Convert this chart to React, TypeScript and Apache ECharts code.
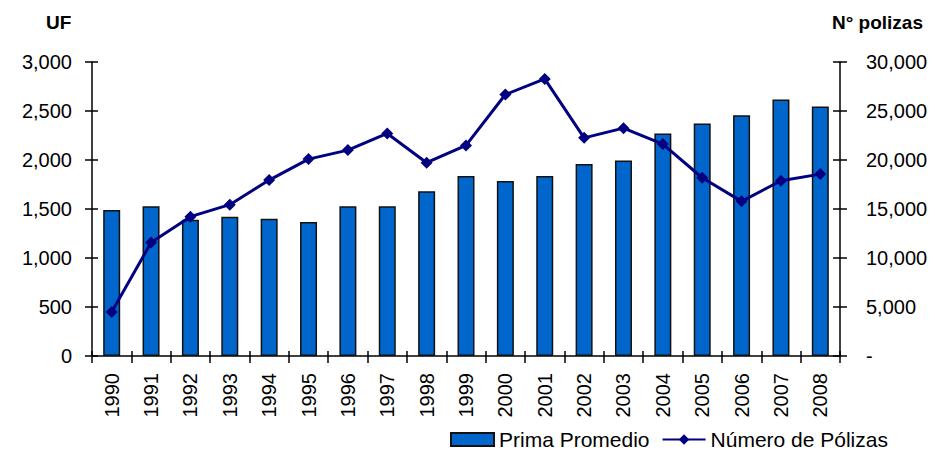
import React, { useEffect, useRef } from "react";
import * as echarts from "echarts";

const years = ["1990","1991","1992","1993","1994","1995","1996","1997","1998","1999","2000","2001","2002","2003","2004","2005","2006","2007","2008"];
const primaPromedio = [1490, 1527, 1390, 1422, 1401, 1368, 1527, 1527, 1680, 1836, 1785, 1836, 1958, 1995, 2271, 2373, 2457, 2617, 2545];
const numeroPolizas = [4480, 11570, 14220, 15440, 17950, 20090, 21010, 22710, 19720, 21490, 26680, 28270, 22260, 23250, 21620, 18190, 15780, 17880, 18560];
const leftTicks = { min: 0, max: 3000, interval: 500 };
const rightTicks = { min: 0, max: 30000, interval: 5000 };

const FONT = "'Liberation Sans', Arial, sans-serif";
const fmt = (v: number) => v.toLocaleString("en-US");

export default function App() {
  const ref = useRef<HTMLDivElement>(null);
  useEffect(() => {
    if (!ref.current) return;
    const chart = echarts.init(ref.current, undefined, { renderer: "svg" });
    const tickStyle = { color: "#000", width: 1.5 };
    chart.setOption({
      animation: false,
      backgroundColor: "#fff",
      textStyle: { fontFamily: FONT },
      grid: { left: 92, right: 95, top: 62, bottom: 96, containLabel: false },
      graphic: [
        { type: "text", left: 46, top: 13, style: { text: "UF", font: `bold 19px ${FONT}`, fill: "#000" } },
        { type: "text", left: 832, top: 13, style: { text: "N° polizas", font: `bold 19px ${FONT}`, fill: "#000" } },
      ],
      legend: {
        left: 445,
        top: 424,
        itemWidth: 43,
        itemHeight: 13,
        itemGap: 12,
        textStyle: { fontSize: 21, color: "#000", fontFamily: FONT },
        data: [
          { name: "Prima Promedio", icon: "rect" },
          { name: "Número de Pólizas" },
        ],
      },
      xAxis: [
        {
          type: "category",
          data: years,
          boundaryGap: true,
          axisLine: { lineStyle: { color: "#000", width: 1.5 } },
          axisTick: { show: true, length: 7, lineStyle: tickStyle },
          axisLabel: { rotate: 90, margin: 17, fontSize: 20, color: "#000", fontFamily: FONT },
        },
        {
          type: "category",
          data: years,
          position: "bottom",
          boundaryGap: true,
          axisLine: { show: false },
          axisTick: { show: true, inside: true, length: 5, lineStyle: tickStyle },
          axisLabel: { show: false },
        },
      ],
      yAxis: [
        {
          type: "value",
          position: "left",
          ...leftTicks,
          splitLine: { show: false },
          axisLine: { show: true, lineStyle: { color: "#000", width: 1.5 } },
          axisTick: { show: true, length: 7, lineStyle: tickStyle },
          axisLabel: { margin: 20, fontSize: 20, color: "#000", fontFamily: FONT, formatter: (v: number) => fmt(v) },
        },
        {
          type: "value",
          position: "right",
          ...rightTicks,
          splitLine: { show: false },
          axisLine: { show: true, lineStyle: { color: "#000", width: 1.5 } },
          axisTick: { show: true, length: 7, lineStyle: tickStyle },
          axisLabel: { margin: 26, fontSize: 20, color: "#000", fontFamily: FONT, formatter: (v: number) => (v === 0 ? "-" : fmt(v)) },
        },
        {
          type: "value",
          position: "left",
          ...leftTicks,
          splitLine: { show: false },
          axisLine: { show: false },
          axisTick: { show: true, inside: true, length: 6, lineStyle: tickStyle },
          axisLabel: { show: false },
        },
        {
          type: "value",
          position: "right",
          ...rightTicks,
          splitLine: { show: false },
          axisLine: { show: false },
          axisTick: { show: true, inside: true, length: 7, lineStyle: tickStyle },
          axisLabel: { show: false },
        },
      ],
      series: [
        {
          name: "Prima Promedio",
          type: "bar",
          xAxisIndex: 0,
          yAxisIndex: 0,
          data: primaPromedio,
          barWidth: 17,
          itemStyle: { color: "#0066CC", borderColor: "#111", borderWidth: 1.5 },
        },
        {
          name: "Número de Pólizas",
          type: "line",
          xAxisIndex: 0,
          yAxisIndex: 1,
          data: numeroPolizas,
          symbol: "diamond",
          symbolSize: 12,
          lineStyle: { color: "#000080", width: 3 },
          itemStyle: { color: "#000080" },
          z: 5,
        },
      ],
    });
    return () => chart.dispose();
  }, []);
  return <div ref={ref} style={{ width: 935, height: 452, position: "absolute", left: 0, top: 0 }} />;
}
